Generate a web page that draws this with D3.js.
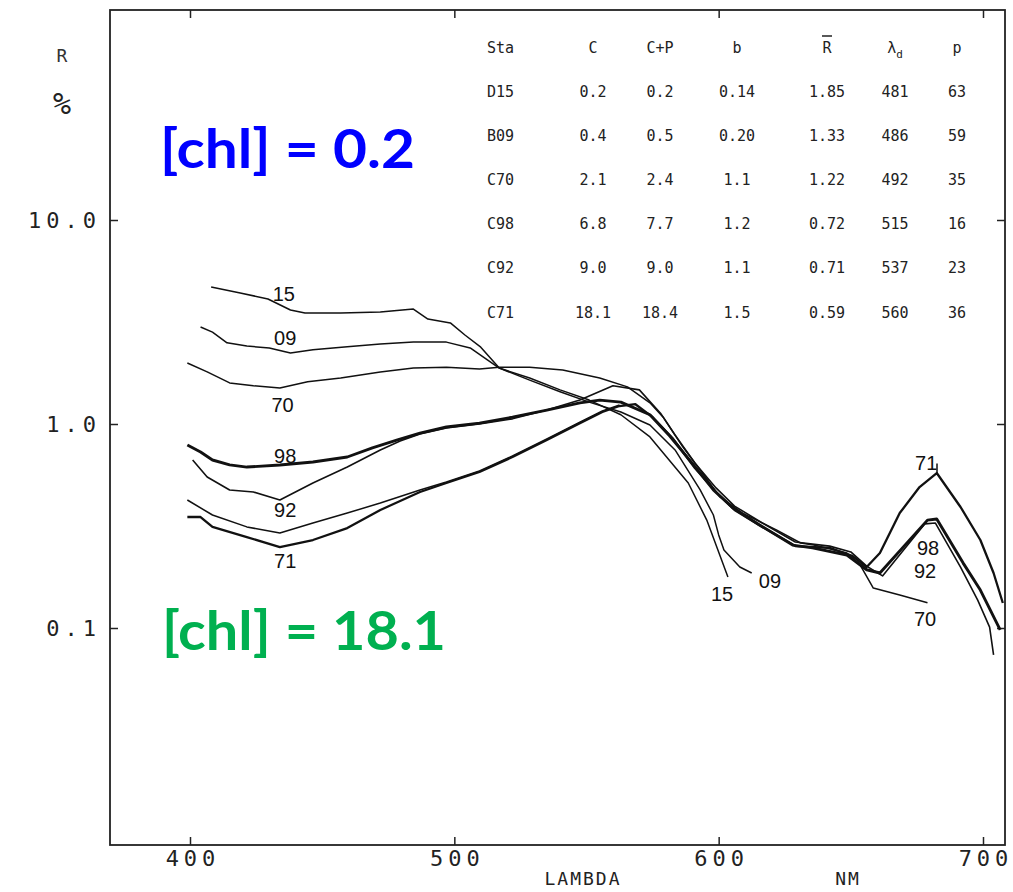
<!DOCTYPE html>
<html>
<head>
<meta charset="utf-8">
<script src="https://cdn.jsdelivr.net/npm/d3@7"></script>
<style>
  body { margin: 0; background: #fff; }
  svg { display: block; }
</style>
</head>
<body>
<svg width="1013" height="892"></svg>
<script>
// axis ticks
const lambdaTicks = [400, 500, 600, 700];
const rTicks = [0.1, 1, 10];
const rTickLabels = ["0.1", "1.0", "10.0"];

// reflectance spectra, [lambda nm, R %]
const s15 = [[408,4.69],[419,4.39],[429.5,4.10],[438,3.62],[443.5,3.50],[457,3.50],[472,3.54],[484.5,3.66],
  [490,3.27],[498.5,3.13],[504,2.73],[510,2.38],[517,1.88],[528.5,1.68],[540,1.47],[551,1.31],[563,1.11],
  [574,0.864],[588.5,0.514],[595.5,0.338],[603.5,0.178]];
const s09 = [[404,2.99],[408.5,2.82],[414,2.50],[421.5,2.41],[430,2.36],[438,2.23],[446.5,2.31],[459.5,2.39],
  [472,2.47],[484.5,2.52],[497,2.52],[506,2.36],[512.5,2.06],[517,1.88],[528.5,1.64],[540,1.44],[551,1.28],
  [563,1.145],[574,0.989],[583.5,0.746],[593,0.475],[598,0.358],[600,0.286],[602,0.241],[608,0.199],[612.5,0.186]];
const s70 = [[399,1.99],[406.5,1.80],[415,1.59],[424,1.54],[434,1.50],[444.5,1.61],[457,1.68],[472,1.80],
  [484.5,1.88],[497,1.90],[509.5,1.86],[517,1.90],[528.5,1.90],[541,1.84],[555,1.68],[565.5,1.52],[574,1.27],
  [579,1.08],[586.5,0.771],[593,0.595],[600.5,0.439],[609,0.366],[622,0.302],[631,0.261],[636,0.255],
  [648.5,0.233],[653.5,0.204],[658.5,0.157],[668.5,0.145],[679,0.133]];
const s98 = [[399,0.789],[404,0.729],[408.5,0.666],[415,0.630],[421.5,0.615],[434,0.630],[446.5,0.651],
  [459.5,0.689],[469,0.763],[478.5,0.835],[487,0.903],[497,0.967],[509.5,1.01],[522,1.08],[535,1.17],
  [547.5,1.27],[555,1.31],[563,1.28],[574,1.11],[581.5,0.873],[590.5,0.630],[598,0.475],[605.5,0.387],
  [615.5,0.320],[628,0.255],[635.5,0.247],[648.5,0.228],[656,0.193],[661,0.186],[679,0.338],[682.5,0.342],
  [692.5,0.208],[699,0.1535],[706.5,0.0978]];
const s92 = [[401,0.666],[406.5,0.550],[415,0.475],[424,0.464],[434,0.424],[446.5,0.514],[459.5,0.615],
  [472,0.746],[479.5,0.825],[487,0.893],[497,0.956],[509.5,1.0],[522,1.06],[535,1.17],[547.5,1.31],
  [560,1.54],[570,1.47],[578,1.13],[583.5,0.883],[591,0.644],[599,0.486],[606,0.396],[616.5,0.327],
  [629,0.264],[642,0.252],[650,0.236],[656,0.201],[662,0.180],[678,0.324],[682,0.327],[691.5,0.199],
  [698,0.137],[702.5,0.101],[704,0.0738]];
const s71 = [[399,0.350],[404,0.350],[408.5,0.313],[421.5,0.279],[434,0.249],[446.5,0.270],[459.5,0.309],
  [472,0.379],[487,0.464],[497,0.514],[509.5,0.582],[522,0.689],[535,0.835],[547.5,1.01],[556,1.145],
  [562.5,1.225],[568.5,1.25],[575,1.08],[582.5,0.854],[591,0.609],[599,0.464],[606,0.379],[616.5,0.313],
  [629,0.252],[642,0.247],[650.5,0.226],[656,0.199],[661,0.233],[668.5,0.366],[676,0.491],[682.5,0.575],
  [691.5,0.392],[699,0.270],[704,0.186],[707.5,0.1326]];
// second trace drawn under 71 at the blue end
const s71b = [[399,0.424],[408.5,0.358],[421.5,0.313],[434,0.292],[446.5,0.327],[459.5,0.366],[472,0.410],
  [487,0.475],[497,0.520],[509.5,0.588],[522,0.697],[535,0.844],[547.5,1.02],[556,1.16],[562.5,1.24]];

// curve labels [text, lambda, R at baseline]
const curveLabels = [
  ["15", 435.5, 4.01], ["09", 436, 2.44], ["70", 435, 1.145],
  ["98", 436, 0.644], ["92", 436, 0.350], ["71", 436, 0.197],
  ["15", 601.3, 0.1356], ["09", 619.4, 0.157], ["70", 678.1, 0.102],
  ["71", 678.5, 0.595], ["98", 679.2, 0.228], ["92", 678.1, 0.176]
];
const leader71 = [[682.6, 0.64], [682.6, 0.575]];

// station table
const tableHeads = ["Sta", "C", "C+P", "b", "R", "λ", "p"];
const stations = ["D15", "B09", "C70", "C98", "C92", "C71"];
const chl = ["0.2", "0.4", "2.1", "6.8", "9.0", "18.1"];
const chlP = ["0.2", "0.5", "2.4", "7.7", "9.0", "18.4"];
const bVals = ["0.14", "0.20", "1.1", "1.2", "1.1", "1.5"];
const rMean = ["1.85", "1.33", "1.22", "0.72", "0.71", "0.59"];
const lambdaD = ["481", "486", "492", "515", "537", "560"];
const purity = ["63", "59", "35", "16", "23", "36"];

const svg = d3.select('svg');
const frame = { left: 110, right: 1005, top: 10, bottom: 845 };

const x = d3.scaleLinear().domain([400, 700]).range([190, 983]);
const y = d3.scaleLog().domain([0.1, 10]).range([628, 220]);

const axisFont = "'DejaVu Sans Mono', monospace";
const sp = 5; // letter spacing of tick labels

svg.append('rect')
  .attr('x', frame.left).attr('y', frame.top)
  .attr('width', frame.right - frame.left).attr('height', frame.bottom - frame.top)
  .attr('fill', 'none').attr('stroke', '#222').attr('stroke-width', 1.8);

// bottom axis
let gx = svg.append('g').attr('transform', `translate(0,${frame.bottom})`)
  .call(d3.axisBottom(x).tickValues(lambdaTicks).tickSizeInner(-8).tickSizeOuter(0).tickPadding(5));
gx.select('.domain').remove();
gx.selectAll('text').attr('font-family', axisFont).attr('font-size', 22)
  .attr('letter-spacing', sp).attr('dx', sp / 2).attr('fill', '#222');
gx.selectAll('line').attr('stroke', '#222').attr('stroke-width', 1.5);

// top ticks
let gt = svg.append('g').attr('transform', `translate(0,${frame.top})`)
  .call(d3.axisTop(x).tickValues(lambdaTicks).tickSizeInner(-8).tickSizeOuter(0).tickFormat(''));
gt.select('.domain').remove();
gt.selectAll('line').attr('stroke', '#222').attr('stroke-width', 1.5);

// left axis
let gy = svg.append('g').attr('transform', `translate(${frame.left},0)`)
  .call(d3.axisLeft(y).tickValues(rTicks).tickFormat((d, i) => rTickLabels[i])
    .tickSizeInner(-8).tickSizeOuter(0).tickPadding(14));
gy.select('.domain').remove();
gy.selectAll('text').attr('font-family', axisFont).attr('font-size', 22)
  .attr('letter-spacing', sp).attr('dx', sp).attr('fill', '#222');
gy.selectAll('line').attr('stroke', '#222').attr('stroke-width', 1.5);

// right ticks
let gr = svg.append('g').attr('transform', `translate(${frame.right},0)`)
  .call(d3.axisRight(y).tickValues(rTicks).tickSizeInner(-8).tickSizeOuter(0).tickFormat(''));
gr.select('.domain').remove();
gr.selectAll('line').attr('stroke', '#222').attr('stroke-width', 1.5);

// axis titles
svg.append('text').attr('x', 62).attr('y', 62).attr('text-anchor', 'middle')
  .attr('font-family', axisFont).attr('font-size', 18).attr('fill', '#333').text('R');
svg.append('text').attr('x', 62).attr('y', 114).attr('text-anchor', 'middle')
  .attr('font-family', axisFont).attr('font-size', 30).attr('fill', '#222').text('%');
svg.append('text').attr('x', 583).attr('y', 885).attr('text-anchor', 'middle')
  .attr('font-family', axisFont).attr('font-size', 18).attr('letter-spacing', 2).attr('fill', '#222')
  .text('LAMBDA');
svg.append('text').attr('x', 848).attr('y', 885).attr('text-anchor', 'middle')
  .attr('font-family', axisFont).attr('font-size', 18).attr('letter-spacing', 2).attr('fill', '#222')
  .text('NM');

// spectra
const line = d3.line().x(d => x(d[0])).y(d => y(d[1]));
const series = [
  { data: s15, w: 1.5 }, { data: s09, w: 1.5 }, { data: s70, w: 1.5 },
  { data: s71b, w: 1.5 }, { data: s92, w: 1.6 }, { data: s71, w: 2.3 }, { data: s98, w: 2.9 }
];
svg.append('g').selectAll('path').data(series).join('path')
  .attr('d', d => line(d.data))
  .attr('fill', 'none').attr('stroke', '#111')
  .attr('stroke-width', d => d.w).attr('stroke-linejoin', 'round');

svg.append('path').attr('d', line(leader71)).attr('stroke', '#111').attr('stroke-width', 1.5);

svg.append('g').selectAll('text').data(curveLabels).join('text')
  .attr('x', d => x(d[1])).attr('y', d => y(d[2]))
  .attr('text-anchor', 'middle')
  .attr('font-family', "'Liberation Sans', Arial, sans-serif").attr('font-size', 20)
  .attr('fill', '#111').text(d => d[0]);

// table
const colX = [487, 593, 660, 737, 827, 895, 957];
const rowY = [97, 141, 185, 229, 273, 318];
const tFont = "'DejaVu Sans Mono', monospace";
const tbl = svg.append('g').attr('font-family', tFont).attr('font-size', 15).attr('fill', '#222');

tableHeads.forEach((h, i) => {
  const t = tbl.append('text').attr('x', colX[i]).attr('y', 53)
    .attr('text-anchor', i === 0 ? 'start' : 'middle').text(h);
  if (h === 'λ') {
    t.append('tspan').attr('font-size', 11).attr('dy', 5).text('d');
  }
});
// bar over R
tbl.append('line').attr('x1', colX[4] - 5).attr('x2', colX[4] + 5)
  .attr('y1', 36).attr('y2', 36).attr('stroke', '#222').attr('stroke-width', 1.5);

const cols = [stations, chl, chlP, bVals, rMean, lambdaD, purity];
cols.forEach((col, ci) => {
  col.forEach((v, ri) => {
    tbl.append('text').attr('x', colX[ci]).attr('y', rowY[ri])
      .attr('text-anchor', ci === 0 ? 'start' : 'middle').text(v);
  });
});

// annotations
svg.append('text').attr('x', 160).attr('y', 168)
  .attr('font-family', "Lato, 'Open Sans', sans-serif").attr('font-weight', 'bold')
  .attr('font-size', 54).attr('fill', '#0000ff')
  .attr('textLength', 255).attr('lengthAdjust', 'spacingAndGlyphs')
  .text('[chl] = 0.2');
svg.append('text').attr('x', 162).attr('y', 650)
  .attr('font-family', "Lato, 'Open Sans', sans-serif").attr('font-weight', 'bold')
  .attr('font-size', 54).attr('fill', '#00b050')
  .attr('textLength', 284).attr('lengthAdjust', 'spacingAndGlyphs')
  .text('[chl] = 18.1');
</script>
</body>
</html>
